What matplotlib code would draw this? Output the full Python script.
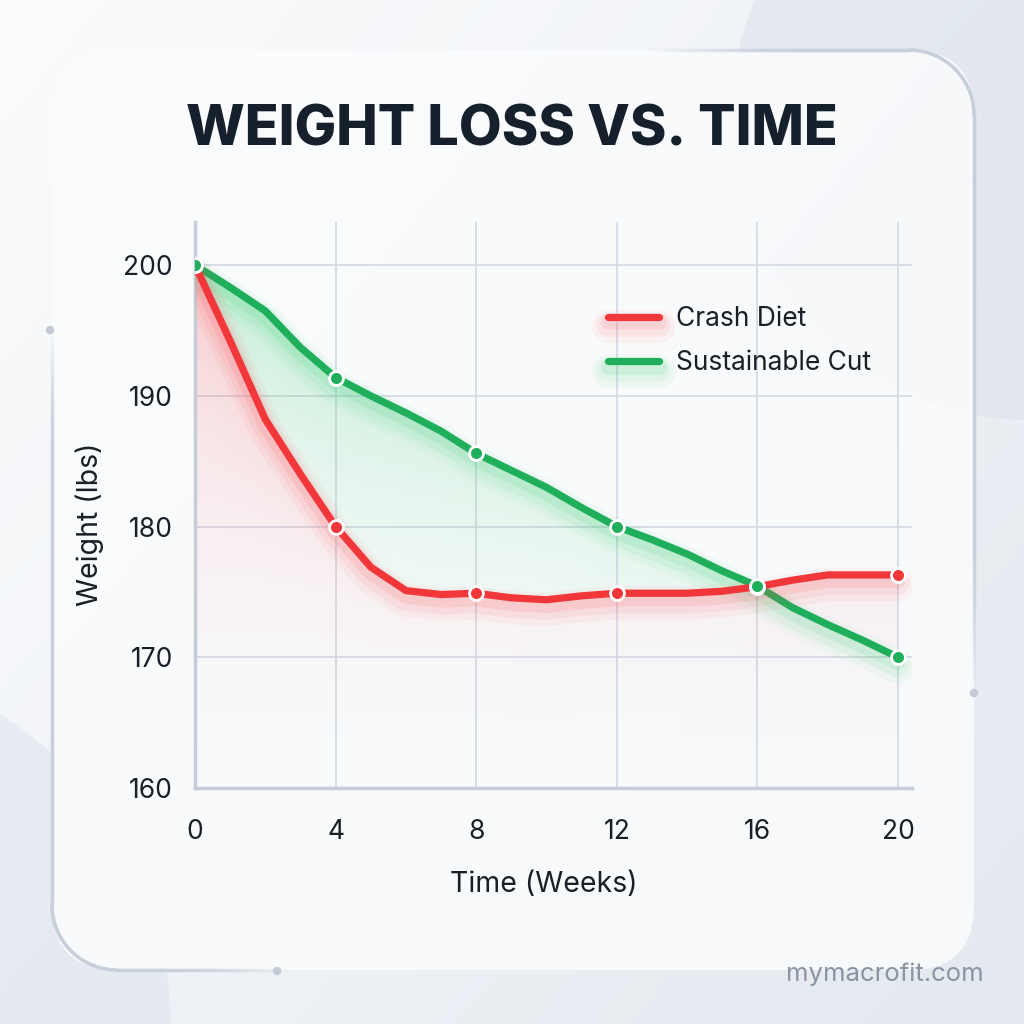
import numpy as np
import matplotlib
matplotlib.use("Agg")
import matplotlib.pyplot as plt
from matplotlib.patches import Circle, FancyBboxPatch
from matplotlib.collections import LineCollection
from matplotlib.colors import to_rgb
import matplotlib.patheffects as pe
from matplotlib.lines import Line2D

# ---------------- data ----------------
weeks = list(range(21))
crash = [200.0, 194.2, 188.2, 184.0, 180.0, 176.9, 175.1, 174.8, 174.9, 174.55, 174.4,
         174.7, 174.9, 174.9, 174.9, 175.05, 175.4, 175.9, 176.3, 176.3, 176.3]
sustain = [200.0, 198.3, 196.5, 193.7, 191.4, 190.0, 188.7, 187.3, 185.6, 184.3, 183.0,
           181.45, 180.0, 179.0, 177.9, 176.6, 175.45, 173.8, 172.5, 171.3, 170.0]
marker_weeks = [0, 4, 8, 12, 16, 20]
xticks = [0, 4, 8, 12, 16, 20]
yticks = [160, 170, 180, 190, 200]
series_names = ["Crash Diet", "Sustainable Cut"]
title = "WEIGHT LOSS VS. TIME"
xlabel = "Time (Weeks)"
ylabel = "Weight (lbs)"
watermark = "mymacrofit.com"

RED = "#f2373b"
GREEN = "#1faf5c"
TXT = "#1a1f27"
FONT = "Inter"

fig = plt.figure(figsize=(10.24, 10.24), dpi=100)

# ---------------- background ----------------
bg = fig.add_axes([0, 0, 1, 1], zorder=-10)
bg.axis("off")
gx, gy = np.meshgrid(np.linspace(0, 1, 256), np.linspace(0, 1, 256))
t = np.clip((gx * 0.55 + gy * 0.45), 0, 1)
c0 = np.array(to_rgb("#fbfcfd"))
c1 = np.array(to_rgb("#e4e9f0"))
img = c0[None, None, :] * (1 - t[..., None]) + c1[None, None, :] * t[..., None]
bg.imshow(img, extent=(0, 1024, 1024, 0), aspect="auto", zorder=0)
bg.add_patch(Circle((1030, 120), 300, color="#dde3ec", alpha=0.6, zorder=1, lw=0))
bg.add_patch(Circle((-190, 1020), 360, color="#dfe5ee", alpha=0.6, zorder=1, lw=0))
bg.set_xlim(0, 1024)
bg.set_ylim(1024, 0)

# card
card = FancyBboxPatch((52 + 65, 50 + 65), 922 - 130, 920 - 130,
                      boxstyle="round,pad=65", fc="#fbfcfd", ec="none", alpha=0.85, zorder=2)
bg.add_patch(card)

# card border with fading segments
L, R, T, B, rr = 52, 974, 50, 970, 65
pts = []
def arc(cx, cy, a0, a1, n=30):
    a = np.linspace(np.radians(a0), np.radians(a1), n)
    return list(zip(cx + rr * np.cos(a), cy + rr * np.sin(a)))
pts += [(x, T) for x in np.linspace(L + rr, R - rr, 200)]
pts += arc(R - rr, T + rr, -90, 0)
pts += [(R, y) for y in np.linspace(T + rr, B - rr, 200)]
pts += arc(R - rr, B - rr, 0, 90)
pts += [(x, B) for x in np.linspace(R - rr, L + rr, 200)]
pts += arc(L + rr, B - rr, 90, 180)
pts += [(L, y) for y in np.linspace(B - rr, T + rr, 200)]
pts = np.array(pts)
segs = np.stack([pts[:-1], pts[1:]], axis=1)
mid = segs.mean(axis=1)
alphas = []
for (mx, my) in mid:
    a = 0.0
    if my < 200 and mx > 650:
        a = np.clip((mx - 650) / 150, 0, 1)
    if mx > 900 and my >= 200:
        a = np.clip((690 - my) / 150, 0, 1)
    if mx < 120 and my > 330:
        a = np.clip((my - 330) / 120, 0, 1)
    if my > 900 and 120 <= mx < 300:
        a = np.clip((290 - mx) / 120, 0, 1)
    alphas.append(a * 0.9)
cols = [(0.78, 0.81, 0.86, a) for a in alphas]
bg.add_collection(LineCollection(segs, colors=cols, linewidths=2.5, zorder=3, capstyle="round"))
for (dx, dy) in [(50, 330), (974, 693), (277, 971)]:
    bg.add_patch(Circle((dx, dy), 3.5, color="#c3cad5", zorder=4))

# ---------------- main axes ----------------
ax = fig.add_axes([195 / 1024, 1 - 788 / 1024, 717 / 1024, 566 / 1024], zorder=1)
ax.patch.set_alpha(0)
XMAX = 20.4
YMIN, YMAX = 160, 203.3

N = 500
GX = np.linspace(0, XMAX, N)
GY = np.linspace(YMIN, YMAX, N)
line_c = np.interp(GX, weeks, crash, right=np.nan)
line_s = np.interp(GX, weeks, sustain, right=np.nan)

def grad_img(color, alpha):
    rgba = np.zeros((N, N, 4))
    rgba[..., :3] = to_rgb(color)
    rgba[..., 3] = np.nan_to_num(alpha)
    ax.imshow(rgba, extent=(0, XMAX, YMIN, YMAX), origin="lower", aspect="auto",
              zorder=1, interpolation="bilinear")

hgt = np.clip((GY[:, None] - YMIN) / (200 - YMIN), 0, 1)
# green fill: between green line and red line
below_s = GY[:, None] <= line_s[None, :]
above_c = GY[:, None] >= line_c[None, :]
ds = line_s[None, :] - GY[:, None]
a_s = np.where(below_s & above_c, 0.30 * hgt ** 1.3 * (0.55 + 0.45 * np.exp(-ds / 6)), 0)
grad_img("#3ccb74", a_s)
# red fill: below red line, fading down
dc = line_c[None, :] - GY[:, None]
a_c = np.where(GY[:, None] <= line_c[None, :], 0.38 * hgt ** 1.7 * (0.6 + 0.4 * np.exp(-dc / 5)), 0)
grad_img("#f4555a", a_c)

def glow(color):
    return [pe.SimpleLineShadow(offset=(0, -7), shadow_color=color, alpha=0.05, rho=1, linewidth=24),
            pe.SimpleLineShadow(offset=(0, -6), shadow_color=color, alpha=0.07, rho=1, linewidth=17),
            pe.SimpleLineShadow(offset=(0, -4), shadow_color=color, alpha=0.11, rho=1, linewidth=11),
            pe.Normal()]

ax.plot(weeks, sustain, color=GREEN, lw=5.2, solid_capstyle="round", solid_joinstyle="round",
        zorder=3, path_effects=glow("#2fd06f"))
ax.plot(weeks, crash, color=RED, lw=5.2, solid_capstyle="round", solid_joinstyle="round",
        zorder=4, path_effects=glow("#ff4a4f"))

mk_c = [crash[w] for w in marker_weeks]
mk_s = [sustain[w] for w in marker_weeks]
ax.plot(marker_weeks, mk_c, "o", ms=10, mfc=RED, mec="white", mew=2, zorder=5)
ax.plot(marker_weeks, mk_s, "o", ms=10, mfc=GREEN, mec="white", mew=2, zorder=6)

ax.set_xlim(0, XMAX)
ax.set_ylim(YMIN, YMAX)
ax.set_xticks(xticks)
ax.set_yticks(yticks)
ax.grid(True, color="#d3d9e3", lw=1.2, zorder=0)
ax.set_axisbelow(True)
for s in ["top", "right"]:
    ax.spines[s].set_visible(False)
for s in ["left", "bottom"]:
    ax.spines[s].set_color("#c6cdd8")
    ax.spines[s].set_linewidth(2.5)
ax.tick_params(length=0, labelsize=19, colors=TXT)
ax.tick_params(axis="y", pad=16)
ax.tick_params(axis="x", pad=22)
for lab in ax.get_xticklabels() + ax.get_yticklabels():
    lab.set_family(FONT)

ax.text(0.486, -0.17, xlabel, transform=ax.transAxes, ha="center", va="center",
        fontsize=20.5, family=FONT, color=TXT)
ax.text(-0.147, 0.465, ylabel, transform=ax.transAxes, ha="center", va="center",
        rotation=90, fontsize=20.5, family=FONT, color=TXT)

handles = [Line2D([], [], color=RED, lw=5.2, solid_capstyle="round", path_effects=glow("#ff4a4f")),
           Line2D([], [], color=GREEN, lw=5.2, solid_capstyle="round", path_effects=glow("#2fd06f"))]
leg = ax.legend(handles, series_names, loc="upper left", bbox_to_anchor=(0.557, 0.875),
                frameon=False, prop={"family": FONT, "size": 19}, handlelength=1.95,
                handletextpad=0.66, labelspacing=0.7, borderpad=0)
for t_ in leg.get_texts():
    t_.set_color(TXT)

fig.text(0.5, 1 - 131 / 1024, title, ha="center", va="center", fontsize=40,
         fontweight="heavy", family=FONT, color="#16202c")
fig.text(984 / 1024, 1 - 974 / 1024, watermark, ha="right", va="center", fontsize=18.5,
         family=FONT, color="#8a94a2")

fig.savefig("out.png", dpi=100)
